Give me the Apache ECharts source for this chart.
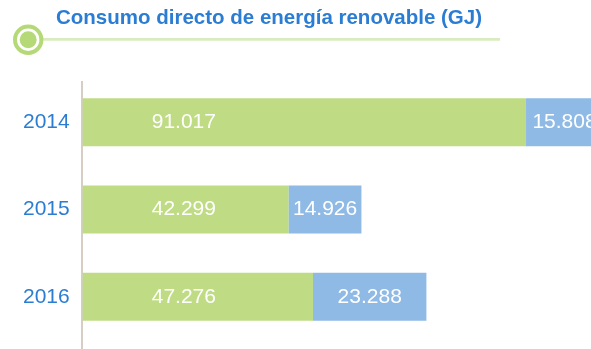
<!DOCTYPE html>
<html>
<head>
<meta charset="utf-8">
<script src="https://cdn.jsdelivr.net/npm/echarts@6/dist/echarts.min.js"></script>
<style>
  html, body { margin: 0; padding: 0; background: #ffffff; }
  #chart { width: 591px; height: 349px; }
</style>
</head>
<body>
<div id="chart"></div>
<script>
// Renewable energy consumed directly, in GJ, per year
const years = ['2014', '2015', '2016'];
const consumoA = [91017, 42299, 47276];
const consumoB = [15808, 14926, 23288];

const GREEN = '#bfdc84';
const BLUE = '#8fbae6';
const TEXT_BLUE = '#2a7dd3';
const FONT = '"Liberation Sans", Arial, Helvetica, sans-serif';

// Spanish thousands separator
const fmt = v => String(v).replace(/\B(?=(\d{3})+(?!\d))/g, '.');

const chart = echarts.init(document.getElementById('chart'), null, { renderer: 'canvas' });

chart.setOption({
  animation: false,
  backgroundColor: '#ffffff',
  title: {
    text: 'Consumo directo de energía renovable (GJ)',
    left: 56,
    top: 8.3,
    padding: 0,
    textStyle: {
      color: TEXT_BLUE,
      fontSize: 20.5,
      fontWeight: 'bold',
      fontFamily: FONT
    }
  },
  // the plot runs past the right edge of the canvas
  grid: {
    left: 82.7,
    width: 535.8,
    top: 78.5,
    bottom: 8.5,
    containLabel: false,
    outerBoundsMode: 'none'
  },
  xAxis: {
    type: 'value',
    min: 0,
    max: 110000,
    show: false
  },
  yAxis: {
    type: 'category',
    inverse: true,
    data: years,
    axisLine: { show: false },
    axisTick: { show: false },
    axisLabel: {
      color: TEXT_BLUE,
      fontSize: 21,
      fontFamily: FONT,
      margin: 13
    }
  },
  graphic: [
    // header rule with the round marker
    {
      type: 'line',
      z: 1,
      shape: { x1: 40, y1: 39.4, x2: 500, y2: 39.4 },
      style: { stroke: '#daecbf', lineWidth: 2.8 }
    },
    {
      type: 'circle',
      z: 2,
      shape: { cx: 28.2, cy: 39.7, r: 13.2 },
      style: { fill: '#ffffff', stroke: '#b6d978', lineWidth: 4 }
    },
    {
      type: 'circle',
      z: 3,
      shape: { cx: 28.2, cy: 39.7, r: 8.5 },
      style: { fill: '#b6d978' }
    },
    // vertical baseline of the category axis
    {
      type: 'line',
      z: 1,
      shape: { x1: 82, y1: 81, x2: 82, y2: 349 },
      style: { stroke: '#c9bdb2', lineWidth: 1.5 }
    }
  ],
  series: [
    {
      name: 'A',
      type: 'bar',
      stack: 'total',
      data: consumoA,
      barCategoryGap: '45%',
      clip: false,
      itemStyle: { color: GREEN },
      label: {
        show: true,
        position: [69, '50%'],
        align: 'left',
        verticalAlign: 'middle',
        color: '#ffffff',
        fontSize: 21,
        fontFamily: FONT,
        formatter: p => fmt(p.value)
      }
    },
    {
      name: 'B',
      type: 'bar',
      stack: 'total',
      data: consumoB,
      clip: false,
      itemStyle: { color: BLUE },
      label: {
        show: true,
        position: 'inside',
        color: '#ffffff',
        fontSize: 21,
        fontFamily: FONT,
        formatter: p => fmt(p.value)
      }
    }
  ]
});
</script>
</body>
</html>
